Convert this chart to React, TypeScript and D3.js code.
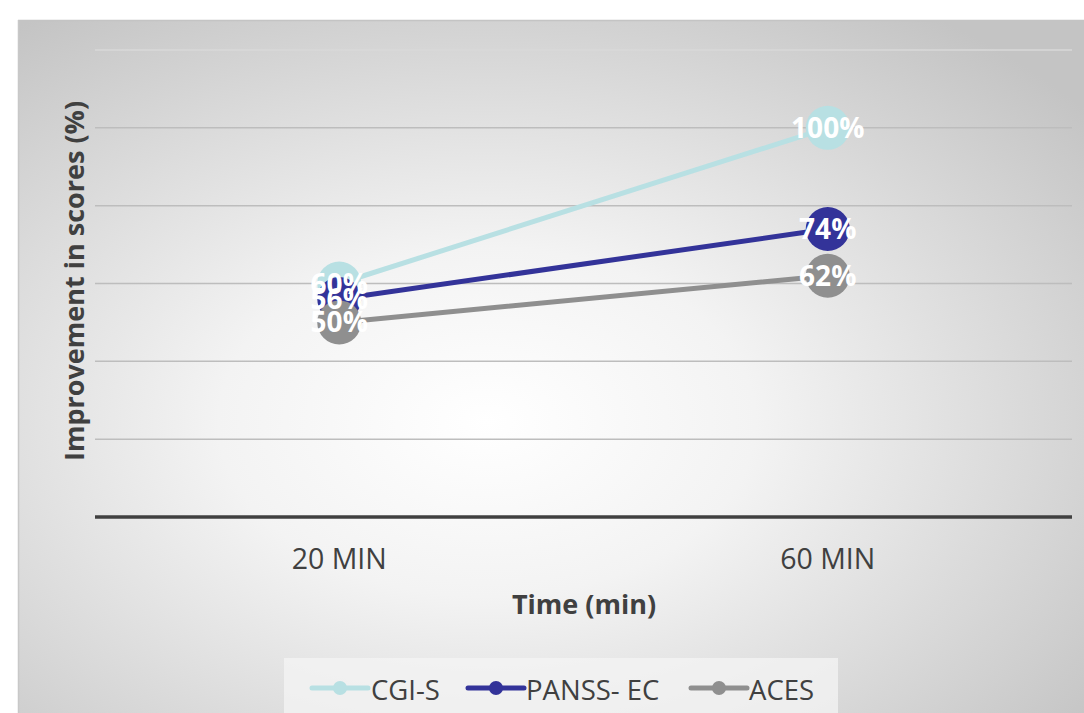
import React from "react";
import * as d3 from "d3";

const categories = ["20 MIN", "60 MIN"];
const seriesNames = ["CGI-S", "PANSS- EC", "ACES"];
const cgiValues = [60, 100];
const panssValues = [56, 74];
const acesValues = [50, 62];
const yTicks = [0, 20, 40, 60, 80, 100, 120];
const colors = ["#b8e0e3", "#333399", "#8f8f8f"];

const W = 1084;
const H = 713;
const FONT = "'Open Sans', 'DejaVu Sans', sans-serif";

export default function App() {
  const x = d3.scalePoint<string>().domain(categories).range([95, 1072]).padding(0.5);
  const y = d3.scaleLinear().domain([0, 120]).range([517, 50]);
  const series = [cgiValues, panssValues, acesValues].map((vals, i) => ({
    name: seriesNames[i],
    color: colors[i],
    points: vals.map((v, j) => ({ c: categories[j], v })),
  }));
  const line = d3
    .line<{ c: string; v: number }>()
    .x((d) => x(d.c) as number)
    .y((d) => y(d.v));

  const legendItems = [
    { x0: 312, tx: 371 },
    { x0: 468, tx: 526 },
    { x0: 691, tx: 749 },
  ];

  return (
    <svg
      width={W}
      height={H}
      style={{ position: "absolute", left: 0, top: 0 }}
      xmlns="http://www.w3.org/2000/svg"
    >
      <defs>
        <radialGradient id="bg" cx="44%" cy="58%" r="72%" gradientUnits="objectBoundingBox">
          <stop offset="0%" stopColor="#ffffff" />
          <stop offset="35%" stopColor="#f3f3f3" />
          <stop offset="100%" stopColor="#c4c4c4" />
        </radialGradient>
      </defs>
      <rect x={0} y={0} width={W} height={H} fill="#ffffff" />
      <rect x={18} y={20} width={W - 18} height={H - 20} fill="url(#bg)" />
      <line x1={18} x2={W} y1={20.5} y2={20.5} stroke="#c4c4c4" strokeWidth={1.5} />
      <line x1={18.5} x2={18.5} y1={20} y2={H} stroke="#c8c8c8" strokeWidth={1.5} />

      {yTicks.filter((t) => t > 0).map((t) => (
        <line
          key={t}
          x1={95}
          x2={1072}
          y1={y(t)}
          y2={y(t)}
          stroke={t === 120 ? "#d8d8d8" : "#bdbdbd"}
          strokeWidth={1.5}
        />
      ))}
      <line x1={95} x2={1072} y1={y(0)} y2={y(0)} stroke="#404040" strokeWidth={3.5} />

      {categories.map((c) => (
        <text
          key={c}
          x={x(c) as number}
          y={569}
          textAnchor="middle"
          fontFamily={FONT}
          fontSize={28.5}
          fill="#404040"
        >
          {c}
        </text>
      ))}

      <text
        x={584}
        y={614}
        textAnchor="middle"
        fontFamily={FONT}
        fontSize={27}
        fontWeight="bold"
        fill="#404040"
      >
        Time (min)
      </text>
      <text
        transform={`translate(84,${281}) rotate(-90)`}
        textAnchor="middle"
        fontFamily={FONT}
        fontSize={27}
        fontWeight="bold"
        fill="#404040"
      >
        Improvement in scores (%)
      </text>

      {series.map((s) => (
        <g key={s.name}>
          <path d={line(s.points) || ""} fill="none" stroke={s.color} strokeWidth={5} strokeLinecap="round" />
          {s.points.map((p) => (
            <circle key={p.c} cx={x(p.c) as number} cy={y(p.v)} r={22} fill={s.color} />
          ))}
        </g>
      ))}
      {series.map((s) =>
        s.points.map((p) => (
          <text
            key={s.name + p.c}
            x={x(p.c) as number}
            y={y(p.v) + 10}
            textAnchor="middle"
            fontFamily={FONT}
            fontSize={28}
            fontWeight="bold"
            fill="#ffffff"
          >
            {p.v}%
          </text>
        ))
      )}

      <rect x={284} y={658} width={554} height={55} fill="#f4f4f4" opacity={0.75} />
      {series.map((s, i) => (
        <g key={s.name}>
          <line
            x1={legendItems[i].x0}
            x2={legendItems[i].x0 + 56}
            y1={688}
            y2={688}
            stroke={s.color}
            strokeWidth={5}
            strokeLinecap="round"
          />
          <circle cx={legendItems[i].x0 + 28} cy={688} r={7} fill={s.color} />
          <text
            x={legendItems[i].tx}
            y={700}
            fontFamily={FONT}
            fontSize={27.5}
            fill="#404040"
          >
            {s.name}
          </text>
        </g>
      ))}
    </svg>
  );
}
